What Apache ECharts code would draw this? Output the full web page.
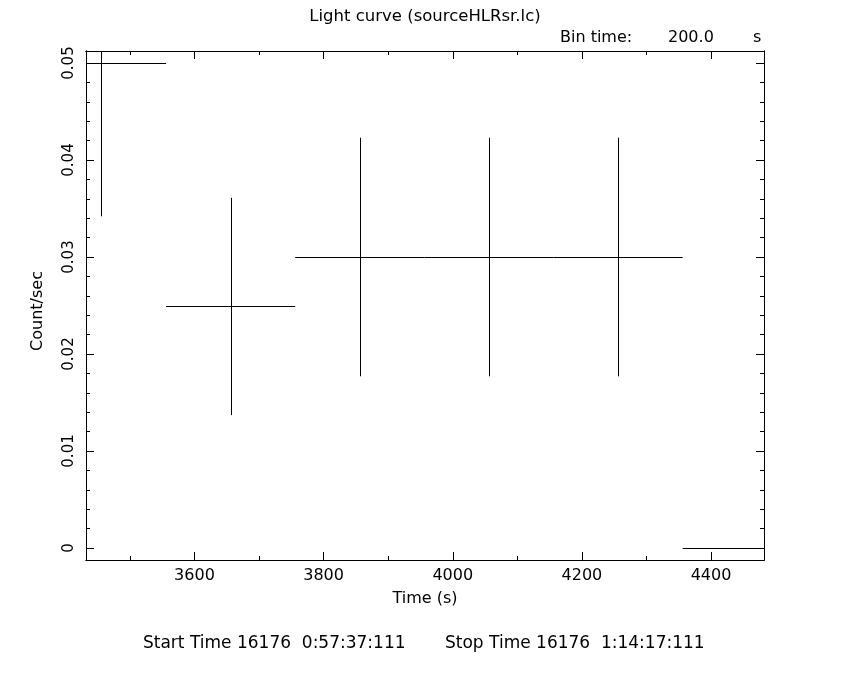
<!DOCTYPE html>
<html>
<head>
<meta charset="utf-8">
<script src="https://cdn.jsdelivr.net/npm/echarts@6/dist/echarts.min.js"></script>
<style>
html,body{margin:0;padding:0;background:#fff;}
#chart{width:850px;height:680px;}
</style>
</head>
<body>
<div id="chart"></div>
<script>
// ---- data ----
const binCenters = [3456, 3656, 3856, 4056, 4256, 4456];
const countRates = [0.0500, 0.0249, 0.0300, 0.0300, 0.0300, 0.0];
const rateErrors = [0.0158, 0.0112, 0.0123, 0.0123, 0.0123, 0.0];
const binHalfWidth = 100;
const xMajorTicks = [3600, 3800, 4000, 4200, 4400];
const xMinorTicks = [3500, 3700, 3900, 4100, 4300, 4500];
const yMajorTicks = [0, 0.01, 0.02, 0.03, 0.04, 0.05];
const yMinorTicks = [0.002,0.004,0.006,0.008,0.012,0.014,0.016,0.018,0.022,0.024,0.026,0.028,0.032,0.034,0.036,0.038,0.042,0.044,0.046,0.048,0.05];
const xRange = [3432, 4482];
const yRange = [-0.00124, 0.05124];
const titleText = 'Light curve (sourceHLRsr.lc)';
const startText = 'Start Time 16176  0:57:37:111';
const stopText = 'Stop Time 16176  1:14:17:111';

const FONT = 'DejaVu Sans';
const chart = echarts.init(document.getElementById('chart'), null, {renderer: 'canvas'});

function xAxisDef(pos, ticks, len, labels) {
  return {
    type: 'value', position: pos, min: xRange[0], max: xRange[1],
    axisLine: {show: true, onZero: false, lineStyle: {color: '#000', width: 1}},
    axisTick: {show: true, inside: true, length: len, customValues: ticks, lineStyle: {color: '#000', width: 1}},
    axisLabel: labels ? {show: true, customValues: ticks, margin: 8, color: '#000', fontFamily: FONT, fontSize: 16,
      formatter: v => String(Math.round(v))} : {show: false},
    splitLine: {show: false}
  };
}
function yAxisDef(pos, ticks, len, labels) {
  return {
    type: 'value', position: pos, min: yRange[0], max: yRange[1],
    axisLine: {show: true, onZero: false, lineStyle: {color: '#000', width: 1}},
    axisTick: {show: true, inside: true, length: len, customValues: ticks, lineStyle: {color: '#000', width: 1}},
    axisLabel: labels ? {show: true, customValues: ticks, rotate: 90, margin: 9, color: '#000', fontFamily: FONT, fontSize: 15,
      formatter: v => (Math.abs(v) < 1e-9 ? '0' : v.toFixed(2))} : {show: false},
    splitLine: {show: false}
  };
}

const errData = binCenters.map((c, i) => [c, countRates[i], rateErrors[i]]);

function renderItem(params, api) {
  const cs = params.coordSys;
  const x0 = cs.x, x1 = cs.x + cs.width, y0 = cs.y, y1 = cs.y + cs.height;
  const xc = api.value(0), yv = api.value(1), e = api.value(2);
  const pL = api.coord([xc - binHalfWidth, yv]);
  const pR = api.coord([xc + binHalfWidth, yv]);
  const pT = api.coord([xc, yv + e]);
  const pB = api.coord([xc, yv - e]);
  const clampX = v => Math.max(x0, Math.min(x1, v));
  const clampY = v => Math.max(y0, Math.min(y1, v));
  const crisp = v => Math.round(v) + 0.5;
  const children = [];
  const style = {stroke: '#000', lineWidth: 1, fill: null};
  const hy = crisp(pL[1]);
  children.push({type: 'line', shape: {x1: clampX(pL[0]), y1: hy, x2: clampX(pR[0]), y2: hy}, style});
  if (e > 0) {
    const vx = crisp(pT[0]);
    children.push({type: 'line', shape: {x1: vx, y1: clampY(pT[1]), x2: vx, y2: clampY(pB[1])}, style});
  }
  return {type: 'group', children};
}

const option = {
  backgroundColor: '#fff',
  animation: false,
  grid: {left: 86, right: 86, top: 51, bottom: 120, containLabel: false},
  xAxis: [
    xAxisDef('bottom', xMajorTicks, 8, true),
    xAxisDef('bottom', xMinorTicks, 4, false),
    xAxisDef('top', xMajorTicks, 8, false),
    xAxisDef('top', xMinorTicks, 4, false)
  ],
  yAxis: [
    yAxisDef('left', yMajorTicks, 8, true),
    yAxisDef('left', yMinorTicks, 4, false),
    yAxisDef('right', yMajorTicks, 8, false),
    yAxisDef('right', yMinorTicks, 4, false)
  ],
  series: [{
    type: 'custom', xAxisIndex: 0, yAxisIndex: 0,
    renderItem, data: errData, clip: true
  }],
  graphic: [
    {type: 'text', x: 425, y: 17, style: {text: titleText, font: '16.5px ' + FONT, fill: '#000', align: 'center', verticalAlign: 'middle'}},
    {type: 'text', x: 560, y: 38, style: {text: 'Bin time:', font: '16px ' + FONT, fill: '#000', align: 'left', verticalAlign: 'middle'}},
    {type: 'text', x: 668, y: 38, style: {text: '200.0', font: '16px ' + FONT, fill: '#000', align: 'left', verticalAlign: 'middle'}},
    {type: 'text', x: 753, y: 38, style: {text: 's', font: '16px ' + FONT, fill: '#000', align: 'left', verticalAlign: 'middle'}},
    {type: 'text', x: 425, y: 599, style: {text: 'Time (s)', font: '16px ' + FONT, fill: '#000', align: 'center', verticalAlign: 'middle'}},
    {type: 'text', x: 38, y: 311, rotation: Math.PI / 2, style: {text: 'Count/sec', font: '16px ' + FONT, fill: '#000', align: 'center', verticalAlign: 'middle'}},
    {type: 'text', x: 143, y: 644, style: {text: startText, font: '17px ' + FONT, fill: '#000', align: 'left', verticalAlign: 'middle'}},
    {type: 'text', x: 445, y: 644, style: {text: stopText, font: '17px ' + FONT, fill: '#000', align: 'left', verticalAlign: 'middle'}}
  ]
};
chart.setOption(option);
</script>
</body>
</html>
